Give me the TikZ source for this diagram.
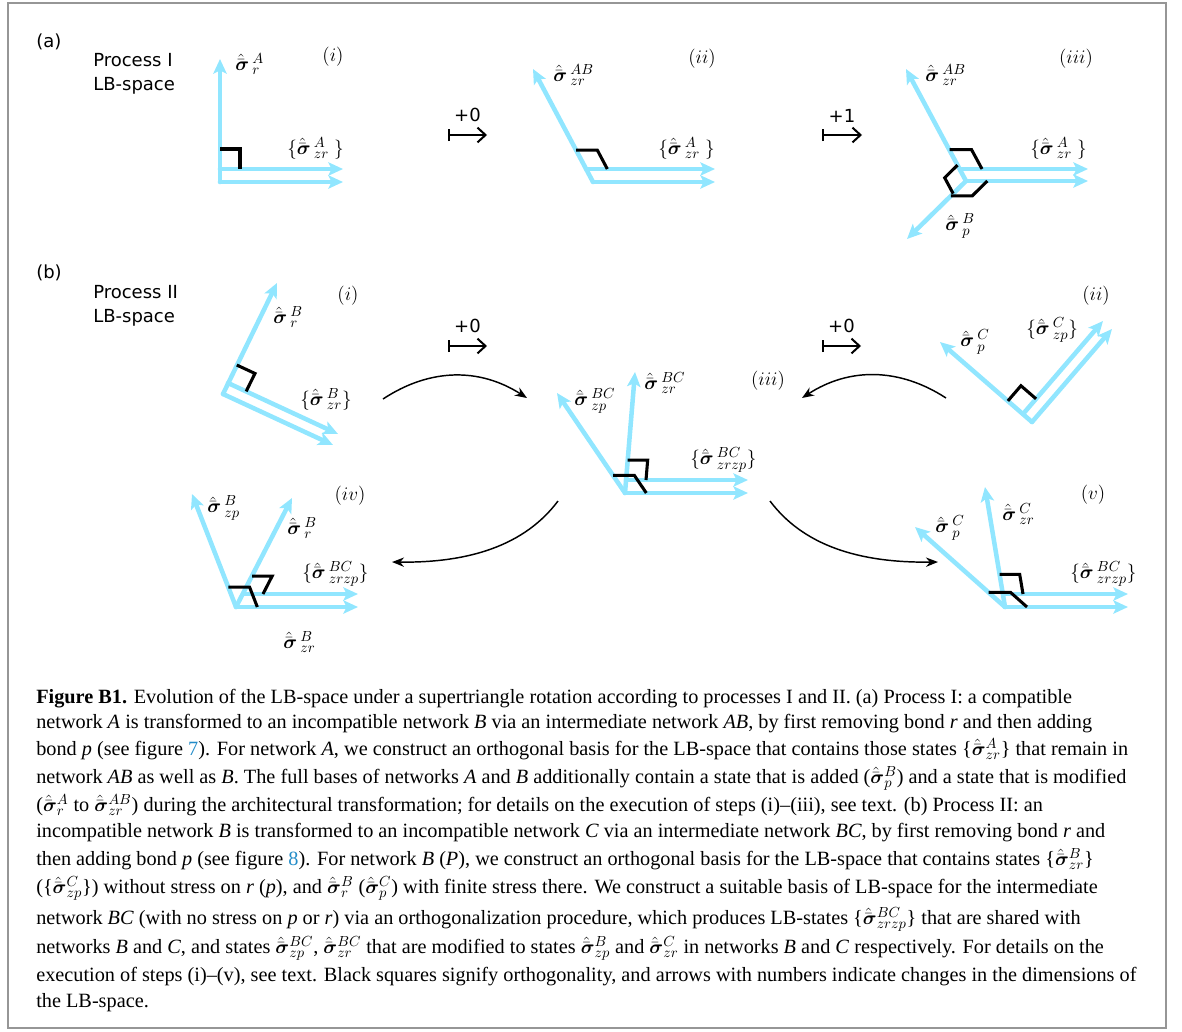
\documentclass[tikz,border=0pt]{standalone}
\usepackage{fontspec}
\setmainfont{Liberation Serif}
\newfontfamily\panelfont{DejaVu Sans}
\usepackage{amsmath,amssymb}
\usetikzlibrary{calc,arrows.meta,positioning}
\definecolor{lbblue}{RGB}{145,230,255}
\definecolor{linkblue}{RGB}{35,140,200}
\definecolor{framegray}{RGB}{150,150,150}
\newcommand{\sig}{\hat{\bar{\boldsymbol{\sigma}}}}
\newcommand{\sigl}[2]{\hat{\bar{\boldsymbol{\sigma}}}\mkern3mu{}^{#1}_{#2}}
\newcommand{\orthmark}[4][15pt]{%
  \coordinate (o1) at ($(#2)!#1!(#3)$);
  \coordinate (o2) at ($(#2)!#1!(#4)$);
  \draw[orth] (o1) -- ($(o1)+(o2)-(#2)$) -- (o2);}
\tikzset{
     vec/.style     = {lbblue, line width=3.4pt, line cap=round, -{Stealth[length=11pt,width=10pt,inset=2.5pt]}},
     orth/.style    = {black, line width=2.3pt},
     mapsto/.style  = {black, line width=1.5pt, {Bar[width=9pt]}-{Straight Barb[length=6pt,width=11pt]}},
     swing/.style   = {black, line width=1.1pt, -{Stealth[length=9pt,width=7pt]}},
     lbl/.style     = {anchor=west, inner sep=0pt, font=\fontsize{15}{17}\selectfont},
     roman/.style   = {inner sep=0pt, font=\fontsize{14}{16}\selectfont},
     proc/.style    = {anchor=base west, inner sep=0pt, font=\panelfont\fontsize{13.5}{16}\selectfont},
     dnum/.style    = {inner sep=0pt, above=9pt, font=\panelfont\fontsize{13.5}{16}\selectfont},
     capline/.style = {anchor=base west, inner sep=0pt, font=\fontsize{15.2}{17}\selectfont},
    }

\begin{document}
\begin{tikzpicture}[x=0.75pt, y=-0.75pt]
      \useasboundingbox (0,0) rectangle (1182,1032);
      \draw[framegray, line width=1.5pt] (8,3) rectangle (1166,1028);

      \node[proc] (ta)  at (36,47)  {(a)};
      \node[proc] (pIa) at (93,66)  {Process I};
      \node[proc] (pIb) at (93,90)  {LB-space};
      \node[proc] (tb)  at (36,278) {(b)};
      \node[proc] (pIIa) at (93,298) {Process II};
      \node[proc] (pIIb) at (93,322) {LB-space};

      \coordinate (ai)   at (220,182);
      \coordinate (aiu)  at (220,169);
      \coordinate (air)  at (220,59);
      \coordinate (aiz)  at (343,169);
      \coordinate (aiy)  at (343,182);
      \draw[vec] (ai) -- (air);
      \draw[vec] (aiu) -- (aiz);
      \draw[vec] (ai) -- (aiy);
      \orthmark{aiu}{air}{aiz}
      \node[lbl]   (lair) at (235,64)  {$\sigl{A}{r}$};
      \node[roman] (ri)   at (333,57)  {$(i)$};
      \node[lbl]   (laiz) at (287,148) {$\{\sigl{A}{zr}\ \}$};

      \coordinate (ma1) at (448,135);
      \coordinate (mb1) at (487,135);
      \draw[mapsto] (ma1) -- node[dnum] (d1) {+0} (mb1);

      \coordinate (aii)  at (593,182);
      \coordinate (aiiu) at (586,169);
      \coordinate (aiit) at (533,69);
      \coordinate (aiiz) at (715,169);
      \coordinate (aiiy) at (715,182);
      \draw[vec] (aii) -- (aiit);
      \draw[vec] (aiiu) -- (aiiz);
      \draw[vec] (aii) -- (aiiy);
      \orthmark[16pt]{aiiu}{aiit}{aiiz}
      \node[lbl]   (laiit) at (553,75)  {$\sigl{AB}{zr}$};
      \node[roman] (rii)   at (702,59)  {$(ii)$};
      \node[lbl]   (laiiz) at (658,148) {$\{\sigl{A}{zr}\ \}$};

      \coordinate (ma2) at (822,135);
      \coordinate (mb2) at (862,135);
      \draw[mapsto] (ma2) -- node[dnum] (d2) {+1} (mb2);

      \coordinate (aiii)  at (966,181);
      \coordinate (aiiiu) at (960,169);
      \coordinate (aiiit) at (906,69);
      \coordinate (aiiip) at (907,239);
      \coordinate (aiiiz) at (1088,169);
      \coordinate (aiiiy) at (1088,181);
      \draw[vec] (aiii) -- (aiiit);
      \draw[vec] (aiii) -- (aiiip);
      \draw[vec] (aiiiu) -- (aiiiz);
      \draw[vec] (aiii) -- (aiiiy);
      \orthmark[16.5pt]{aiiiu}{aiiit}{aiiiz}
      \orthmark[13.5pt]{aiii}{aiiit}{aiiip}
      \orthmark[16pt]{aiii}{aiiip}{aiiiy}
      \node[lbl]   (laiiit) at (925,75)   {$\sigl{AB}{zr}$};
      \node[roman] (riii)   at (1076,59)  {$(iii)$};
      \node[lbl]   (laiiiz) at (1030,148) {$\{\sigl{A}{zr}\ \}$};
      \node[lbl]   (laiiip) at (945,226)  {$\sigl{B}{p}$};

      \coordinate (bi)  at (223,394);
      \coordinate (biu) at (228,383);
      \coordinate (bir) at (277,283);
      \coordinate (biz) at (338,434);
      \coordinate (biy) at (333,445);
      \draw[vec] (bi) -- (bir);
      \draw[vec] (biu) -- (biz);
      \draw[vec] (bi) -- (biy);
      \orthmark{biu}{bir}{biz}
      \node[lbl]   (lbir) at (273,317) {$\sigl{B}{r}$};
      \node[roman] (rbi)  at (348,296) {$(i)$};
      \node[lbl]   (lbiz) at (300,399) {$\{\sigl{B}{zr}\}$};

      \coordinate (ma3) at (448,346);
      \coordinate (mb3) at (487,346);
      \draw[mapsto] (ma3) -- node[dnum] (d3) {+0} (mb3);
      \coordinate (ma4) at (822,346);
      \coordinate (mb4) at (861,346);
      \draw[mapsto] (ma4) -- node[dnum] (d4) {+0} (mb4);

      \coordinate (biii)  at (625,493);
      \coordinate (biiiu) at (626,480);
      \coordinate (biiip) at (557,393);
      \coordinate (biiir) at (635,372);
      \coordinate (biiiz) at (748,480);
      \coordinate (biiiy) at (748,493);
      \draw[vec] (biii) -- (biiip);
      \draw[vec] (biii) -- (biiir);
      \draw[vec] (biiiu) -- (biiiz);
      \draw[vec] (biii) -- (biiiy);
      \orthmark{biiiu}{biiir}{biiiz}
      \orthmark[16pt]{biii}{biiip}{biiiy}
      \node[lbl]   (lbiiip) at (574,401) {$\sigl{BC}{zp}$};
      \node[lbl]   (lbiiir) at (644,383) {$\sigl{BC}{zr}$};
      \node[roman] (rbiii)  at (768,381) {$(iii)$};
      \node[lbl]   (lbiiiz) at (690,460) {$\{\sigl{BC}{zrzp}\}$};

      \coordinate (bii)  at (1032,422);
      \coordinate (biiu) at (1023,414);
      \coordinate (biip) at (940,342);
      \coordinate (biiz) at (1103,321);
      \coordinate (biiy) at (1112,329);
      \draw[vec] (bii) -- (biip);
      \draw[vec] (biiu) -- (biiz);
      \draw[vec] (bii) -- (biiy);
      \orthmark{biiu}{biip}{biiz}
      \node[lbl]   (lbiip) at (960,342)  {$\sigl{C}{p}$};
      \node[lbl]   (lbiiz) at (1026,330) {$\{\sigl{C}{zp}\}$};
      \node[roman] (rbii)  at (1096,296) {$(ii)$};

      \coordinate (biv)  at (236,607);
      \coordinate (bivu) at (243,594);
      \coordinate (bivp) at (192,494);
      \coordinate (bivr) at (292,498);
      \coordinate (bivz) at (358,594);
      \coordinate (bivy) at (358,607);
      \draw[vec] (biv) -- (bivp);
      \draw[vec] (biv) -- (bivr);
      \draw[vec] (bivu) -- (bivz);
      \draw[vec] (biv) -- (bivy);
      \orthmark[16pt]{biv}{bivp}{bivy}
      \orthmark{bivu}{bivr}{bivz}
      \node[lbl]   (lbivp) at (207,508) {$\sigl{B}{zp}$};
      \node[lbl]   (lbivr) at (287,528) {$\sigl{B}{r}$};
      \node[roman] (rbiv)  at (350,496) {$(iv)$};
      \node[lbl]   (lbivz) at (302,574) {$\{\sigl{BC}{zrzp}\}$};
      \node[lbl]   (lbivy) at (283,642) {$\sigl{B}{zr}$};

      \coordinate (bv)  at (1005,607);
      \coordinate (bvu) at (1003,594);
      \coordinate (bvp) at (915,527);
      \coordinate (bvr) at (985,487);
      \coordinate (bvz) at (1128,594);
      \coordinate (bvy) at (1128,607);
      \draw[vec] (bv) -- (bvp);
      \draw[vec] (bv) -- (bvr);
      \draw[vec] (bvu) -- (bvz);
      \draw[vec] (bv) -- (bvy);
      \orthmark{bvu}{bvr}{bvz}
      \orthmark[16.5pt]{bv}{bvp}{bvy}
      \node[lbl]   (lbvp) at (935,528)  {$\sigl{C}{p}$};
      \node[lbl]   (lbvr) at (1002,514) {$\sigl{C}{zr}$};
      \node[roman] (rbv)  at (1093,495) {$(v)$};
      \node[lbl]   (lbvz) at (1070,574) {$\{\sigl{BC}{zrzp}\}$};

      \coordinate (s1) at (383,399);
      \coordinate (e1) at (527,398);
      \coordinate (s2) at (946,398);
      \coordinate (e2) at (802,398);
      \coordinate (s3) at (558,501);
      \coordinate (e3) at (392,562);
      \coordinate (s4) at (770,501);
      \coordinate (e4) at (938,562);
      \draw[swing] (s1) to[bend left=33] (e1);
      \draw[swing] (s2) to[bend right=33] (e2);
      \draw[swing] (s3) .. controls (525,545) and (470,563) .. (e3);
      \draw[swing] (s4) .. controls (803,545) and (858,563) .. (e4);

      \node[capline] (c1)  at (36,703)  {\textbf{Figure B1.} Evolution of the LB-space under a supertriangle rotation according to processes I and II. (a) Process I: a compatible};
      \node[capline] (c2)  at (36,728)  {network \textit{A} is transformed to an incompatible network \textit{B} via an intermediate network \textit{AB}, by first removing bond \textit{r} and then adding};
      \node[capline] (c3)  at (36,755)  {bond \textit{p} (see figure \textcolor{linkblue}{7}). For network \textit{A}, we construct an orthogonal basis for the LB-space that contains those states \{$\sig^{A}_{zr}$\} that remain in};
      \node[capline] (c4)  at (36,783)  {network \textit{AB} as well as \textit{B}. The full bases of networks \textit{A} and \textit{B} additionally contain a state that is added ($\sig^{B}_{p}$) and a state that is modified};
      \node[capline] (c5)  at (36,811)  {($\sig^{A}_{r}$ to $\sig^{AB}_{zr}$) during the architectural transformation; for details on the execution of steps (i)--(iii), see text. (b) Process II: an};
      \node[capline] (c6)  at (36,837)  {incompatible network \textit{B} is transformed to an incompatible network \textit{C} via an intermediate network \textit{BC}, by first removing bond \textit{r} and};
      \node[capline] (c7)  at (36,865)  {then adding bond \textit{p} (see figure \textcolor{linkblue}{8}). For network \textit{B} (\textit{P}), we construct an orthogonal basis for the LB-space that contains states \{$\sig^{B}_{zr}$\}};
      \node[capline] (c8)  at (36,893)  {(\{$\sig^{C}_{zp}$\}) without stress on \textit{r} (\textit{p}), and $\sig^{B}_{r}$ ($\sig^{C}_{p}$) with finite stress there. We construct a suitable basis of LB-space for the intermediate};
      \node[capline] (c9)  at (36,924)  {network \textit{BC} (with no stress on \textit{p} or \textit{r}) via an orthogonalization procedure, which produces LB-states \{$\sig^{BC}_{zrzp}$\} that are shared with};
      \node[capline] (c10) at (36,953)  {networks \textit{B} and \textit{C}, and states $\sig^{BC}_{zp}$, $\sig^{BC}_{zr}$ that are modified to states $\sig^{B}_{zp}$ and $\sig^{C}_{zr}$ in networks \textit{B} and \textit{C} respectively. For details on the};
      \node[capline] (c11) at (36,981)  {execution of steps (i)--(v), see text. Black squares signify orthogonality, and arrows with numbers indicate changes in the dimensions of};
      \node[capline] (c12) at (36,1007) {the LB-space.};
\end{tikzpicture}
\end{document}
